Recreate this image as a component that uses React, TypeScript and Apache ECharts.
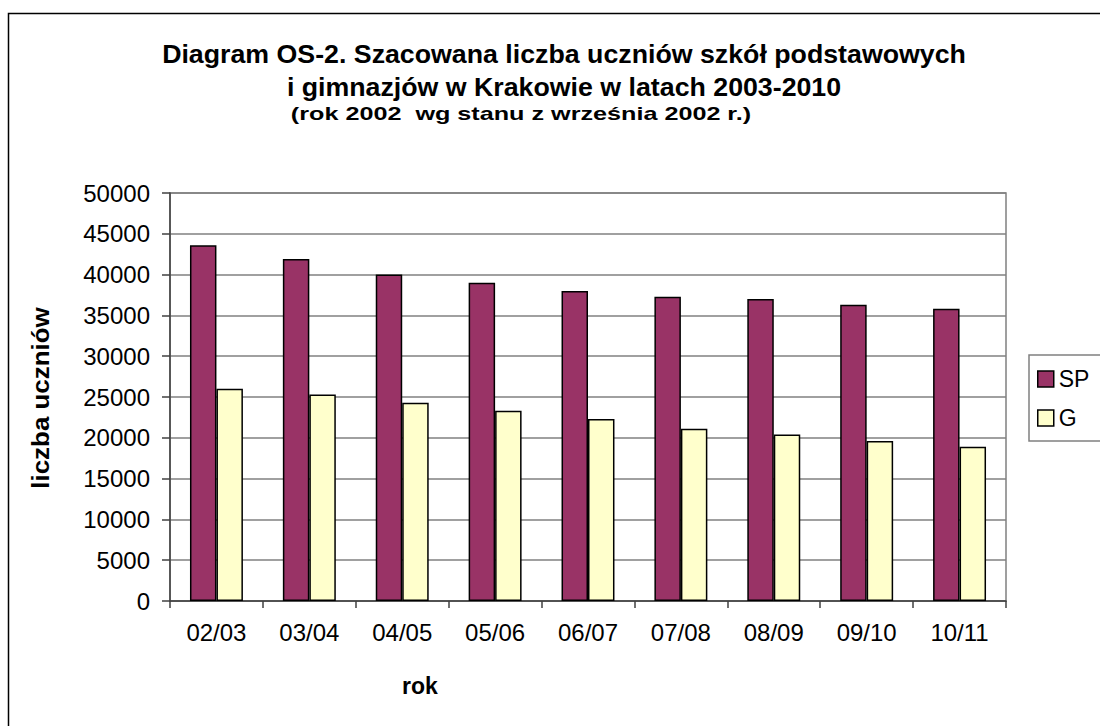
import React, { useEffect, useRef } from "react";
import * as echarts from "echarts";

const categories = ["02/03", "03/04", "04/05", "05/06", "06/07", "07/08", "08/09", "09/10", "10/11"];
const spValues = [43600, 41900, 40000, 39000, 38000, 37300, 37000, 36300, 35800];
const gValues = [26000, 25300, 24300, 23300, 22300, 21100, 20400, 19600, 18900];
const seriesNames = ["SP", "G"];
const titleLines = [
  "Diagram OS-2. Szacowana liczba uczniów szkół podstawowych",
  "i gimnazjów w Krakowie w latach 2003-2010",
  "(rok 2002  wg stanu z września 2002 r.)",
];
const yAxisTitle = "liczba uczniów";
const xAxisTitle = "rok";

const FONT = "Liberation Sans, Arial, sans-serif";

export default function App() {
  const ref = useRef<HTMLDivElement>(null);
  useEffect(() => {
    if (!ref.current) return;
    const chart = echarts.init(ref.current, null, { renderer: "svg" });
    chart.setOption({
      animation: false,
      backgroundColor: "#ffffff",
      textStyle: { fontFamily: FONT },
      grid: {
        left: 170,
        right: 94,
        top: 193,
        bottom: 125,
        show: true,
        borderColor: "#808080",
        borderWidth: 1.5,
        backgroundColor: "transparent",
      },
      legend: {
        orient: "vertical",
        left: 1029,
        top: 355,
        padding: [12, 60, 11, 8],
        borderColor: "#808080",
        borderWidth: 1.5,
        itemGap: 15,
        itemWidth: 16,
        itemHeight: 16,
        icon: "rect",
        itemStyle: { borderColor: "#000", borderWidth: 1.5 },
        textStyle: { fontSize: 23, color: "#000", fontFamily: FONT, lineHeight: 24 },
        data: seriesNames,
      },
      xAxis: {
        type: "category",
        data: categories,
        boundaryGap: true,
        axisLine: { show: true, lineStyle: { color: "#404040", width: 1.5 } },
        axisTick: { show: true, length: 7, inside: false, lineStyle: { color: "#404040", width: 1.5 } },
        axisLabel: { fontSize: 24, color: "#000", margin: 19, fontFamily: FONT },
        splitLine: { show: false },
      },
      yAxis: {
        type: "value",
        min: 0,
        max: 50000,
        interval: 5000,
        axisLine: { show: true, lineStyle: { color: "#404040", width: 1.5 } },
        axisTick: { show: true, length: 8, inside: false, lineStyle: { color: "#404040", width: 1.5 } },
        axisLabel: {
          fontSize: 24,
          color: "#000",
          margin: 20,
          fontFamily: FONT,
          formatter: (v: number) => String(v),
        },
        splitLine: { show: true, lineStyle: { color: "#808080", width: 1.5 } },
      },
      series: [
        {
          name: seriesNames[0],
          type: "bar",
          data: spValues,
          barGap: "0%",
          barCategoryGap: "43%",
          itemStyle: { color: "#993366", borderColor: "#000", borderWidth: 1.5 },
        },
        {
          name: seriesNames[1],
          type: "bar",
          data: gValues,
          barGap: "0%",
          barCategoryGap: "43%",
          itemStyle: { color: "#FFFFCC", borderColor: "#000", borderWidth: 1.5 },
        },
      ],
      graphic: [
        {
          type: "rect",
          silent: true,
          shape: { x: 8.5, y: 13.5, width: 1300, height: 900 },
          style: { fill: "none", stroke: "#000", lineWidth: 1.5 },
          z: 100,
        },
        {
          type: "text",
          x: 564,
          y: 54,
          scaleX: 1.07,
          style: {
            text: titleLines[0],
            font: `bold 25px ${FONT}`,
            fill: "#000",
            align: "center",
            verticalAlign: "middle",
          },
        },
        {
          type: "text",
          x: 564,
          y: 87,
          scaleX: 1.07,
          style: {
            text: titleLines[1],
            font: `bold 25px ${FONT}`,
            fill: "#000",
            align: "center",
            verticalAlign: "middle",
          },
        },
        {
          type: "text",
          x: 521,
          y: 114,
          scaleX: 1.4,
          style: {
            text: titleLines[2],
            font: `bold 18px ${FONT}`,
            fill: "#000",
            align: "center",
            verticalAlign: "middle",
          },
        },
        {
          type: "text",
          x: 40,
          y: 398,
          rotation: Math.PI / 2,
          scaleX: 1.08,
          style: {
            text: yAxisTitle,
            font: `bold 24px ${FONT}`,
            fill: "#000",
            align: "center",
            verticalAlign: "middle",
          },
        },
        {
          type: "text",
          x: 420,
          y: 686,
          style: {
            text: xAxisTitle,
            font: `bold 23px ${FONT}`,
            fill: "#000",
            align: "center",
            verticalAlign: "middle",
          },
        },
      ],
    });
    return () => chart.dispose();
  }, []);
  return (
    <div
      ref={ref}
      style={{ position: "absolute", left: 0, top: 0, width: 1100, height: 726 }}
    />
  );
}
